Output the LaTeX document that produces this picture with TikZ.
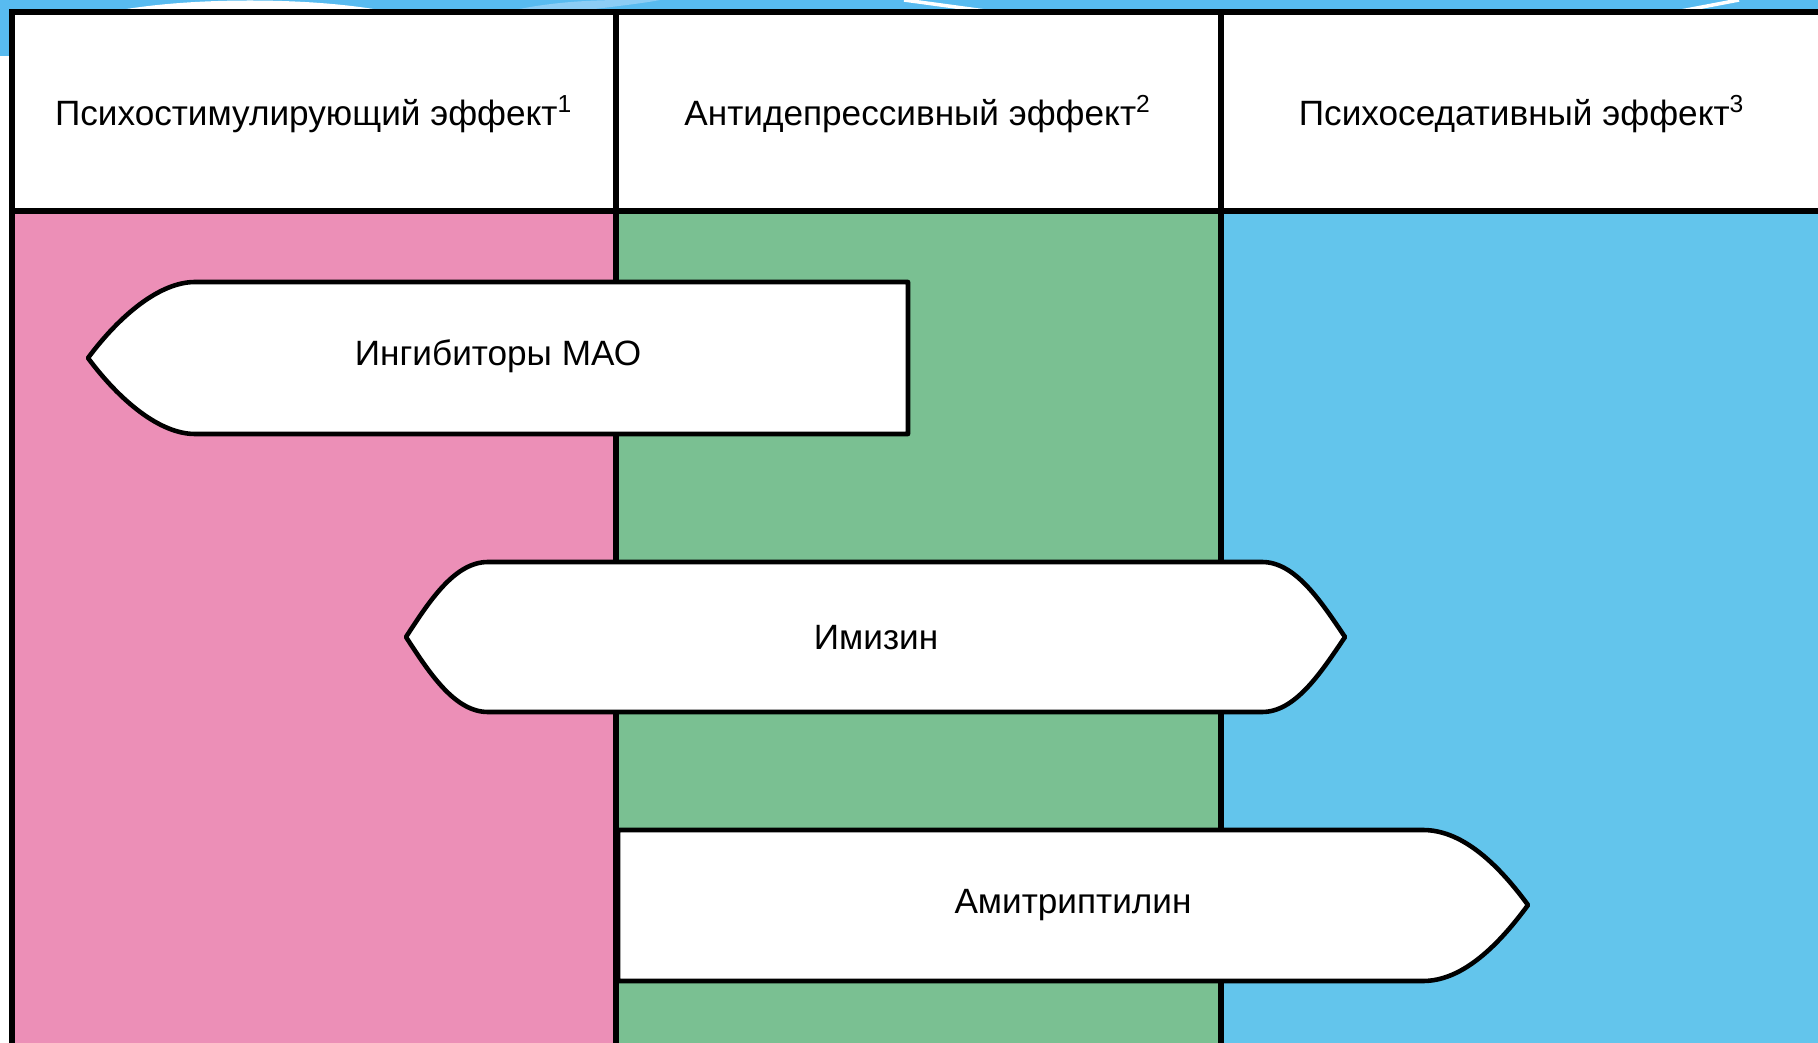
\documentclass[tikz,border=0pt]{standalone}
\usepackage{fontspec}
\setmainfont{Liberation Sans}
\usetikzlibrary{positioning}

\definecolor{stimpink}{RGB}{236,143,183}
\definecolor{depgreen}{RGB}{122,192,146}
\definecolor{sedblue}{RGB}{99,197,236}
\definecolor{slideblue}{RGB}{88,187,240}
\definecolor{slidelight}{RGB}{140,205,245}

\begin{document}
\begin{tikzpicture}[x=0.01cm, y=-0.01cm, head/.style={
        font=\fontsize{10}{12}\selectfont,
        text=black,
        inner sep=0pt
    }, drug/.style={
        draw=black,
        fill=white,
        line width=1.3pt,
        line join=round
    }, grid/.style={
        draw=black,
        line width=1.5pt
    }, druglabel/.style={
        font=\fontsize{10}{12}\selectfont,
        text=black,
        inner sep=0pt
    }]
    \useasboundingbox (0,0) rectangle (1818,1043);
    % slide decoration
    \fill[slideblue] (0,0) rectangle (1818,11);
    \fill[slideblue] (0,0) rectangle (9,56);
    \fill[white] (115,11) .. controls (190,-3) and (310,-3) .. (385,11) -- cycle;
    \fill[slidelight] (510,11) .. controls (550,2) and (590,0) .. (626,0) -- (660,0) .. controls (640,4) and (600,8) .. (580,11) -- cycle;
    \draw[white, line width=1pt] (904,0) -- (985,11);
    \draw[white, line width=1pt] (1681,11) -- (1739,0);
    % columns
    \fill[stimpink] (12,211) rectangle (616,1043);
    \fill[depgreen] (616,211) rectangle (1221,1043);
    \fill[sedblue] (1221,211) rectangle (1818,1043);
    \fill[white] (12,12) rectangle (1818,211);
    \draw[grid] (1818,12) -- (12,12) -- (12,1043);
    \draw[grid] (12,211) -- (1818,211);
    \draw[grid] (616,12) -- (616,1043);
    \draw[grid] (1221,12) -- (1221,1043);
    \node (stim) [head] at (314,114) {Психостимулирующий эффект\textsuperscript{1}};
    \node (antidep) [head] at (918,114) {Антидепрессивный эффект\textsuperscript{2}};
    \node (sedat) [head] at (1522,114) {Психоседативный эффект\textsuperscript{3}};
    % drugs
    \draw[drug] (908,282) -- (195,282) .. controls (160,282) and (120,315) .. (88,358)
        .. controls (120,401) and (160,434) .. (195,434) -- (908,434) -- cycle;
    \draw[drug] (1262,562) -- (488,562) .. controls (455,562) and (430,600) .. (406,637)
        .. controls (430,674) and (455,712) .. (488,712) -- (1262,712)
        .. controls (1295,712) and (1320,674) .. (1345,637)
        .. controls (1320,600) and (1295,562) .. (1262,562) -- cycle;
    \draw[drug] (618,830) -- (1423,830) .. controls (1460,830) and (1495,860) .. (1528,905)
        .. controls (1495,950) and (1460,981) .. (1423,981) -- (618,981) -- cycle;
    \node (mao) [druglabel] at (498,356) {Ингибиторы МАО};
    \node (imizin) [druglabel] at (876,638) {Имизин};
    \node (amitr) [druglabel] at (1073,905) {Амитриптилин};
\end{tikzpicture}
\end{document}
